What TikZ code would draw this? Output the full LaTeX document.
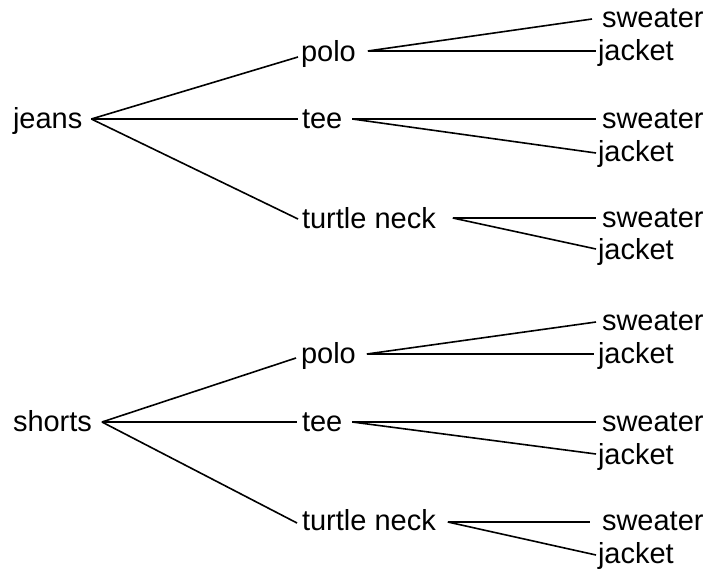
\documentclass[tikz,border=0pt]{standalone}
\usepackage{fontspec}
\setmainfont{Liberation Sans}
\begin{document}
\begin{tikzpicture}[x=1pt,y=-1pt,
  lbl/.style={anchor=base west,inner sep=0pt,outer sep=0pt,font=\fontsize{29}{30}\selectfont},
  edge/.style={line width=1.6pt}]
\useasboundingbox (0,0) rectangle (708,573);
% top tree (baseline = line y + 9)
\node[lbl] (jeans) at (13,128) {jeans};
\node[lbl] (polo1) at (301,61) {polo};
\node[lbl] (tee1) at (302,128) {tee};
\node[lbl] (turt1) at (302,228) {turtle neck};
\node[lbl] (sw11) at (602,27) {sweater};
\node[lbl] (ja11) at (598,60) {jacket};
\node[lbl] (sw12) at (602,128) {sweater};
\node[lbl] (ja12) at (598,161) {jacket};
\node[lbl] (sw13) at (602,227) {sweater};
\node[lbl] (ja13) at (598,259) {jacket};
% bottom tree
\node[lbl] (shorts) at (13,431) {shorts};
\node[lbl] (polo2) at (301,363) {polo};
\node[lbl] (tee2) at (302,431) {tee};
\node[lbl] (turt2) at (302,530) {turtle neck};
\node[lbl] (sw21) at (602,330) {sweater};
\node[lbl] (ja21) at (598,363) {jacket};
\node[lbl] (sw22) at (602,431) {sweater};
\node[lbl] (ja22) at (598,464) {jacket};
\node[lbl] (sw23) at (602,530) {sweater};
\node[lbl] (ja23) at (598,563) {jacket};
% top edges
\draw[edge] ([xshift=9pt,yshift=9pt]jeans.base east) -- ([xshift=-3pt,yshift=4pt]polo1.base west);
\draw[edge] ([xshift=9pt,yshift=9pt]jeans.base east) -- ([xshift=-4pt,yshift=9pt]tee1.base west);
\draw[edge] ([xshift=9pt,yshift=9pt]jeans.base east) -- ([xshift=-4pt,yshift=9pt]turt1.base west);
\draw[edge] ([xshift=12pt,yshift=10pt]polo1.base east) -- ([xshift=-10pt,yshift=8pt]sw11.base west);
\draw[edge] ([xshift=12pt,yshift=10pt]polo1.base east) -- ([xshift=-2pt,yshift=9pt]ja11.base west);
\draw[edge] ([xshift=10pt,yshift=9pt]tee1.base east) -- ([xshift=-6pt,yshift=9pt]sw12.base west);
\draw[edge] ([xshift=10pt,yshift=9pt]tee1.base east) -- ([xshift=-2pt,yshift=8pt]ja12.base west);
\draw[edge] ([xshift=17pt,yshift=10pt]turt1.base east) -- ([xshift=-6pt,yshift=9pt]sw13.base west);
\draw[edge] ([xshift=17pt,yshift=10pt]turt1.base east) -- ([xshift=-2pt,yshift=10pt]ja13.base west);
% bottom edges
\draw[edge] ([xshift=10pt,yshift=9pt]shorts.base east) -- ([xshift=-5pt,yshift=5pt]polo2.base west);
\draw[edge] ([xshift=10pt,yshift=9pt]shorts.base east) -- ([xshift=-5pt,yshift=9pt]tee2.base west);
\draw[edge] ([xshift=10pt,yshift=9pt]shorts.base east) -- ([xshift=-5pt,yshift=7pt]turt2.base west);
\draw[edge] ([xshift=11pt,yshift=9pt]polo2.base east) -- ([xshift=-6pt,yshift=8pt]sw21.base west);
\draw[edge] ([xshift=11pt,yshift=9pt]polo2.base east) -- ([xshift=-4pt,yshift=9pt]ja21.base west);
\draw[edge] ([xshift=10pt,yshift=9pt]tee2.base east) -- ([xshift=-6pt,yshift=9pt]sw22.base west);
\draw[edge] ([xshift=10pt,yshift=9pt]tee2.base east) -- ([xshift=-2pt,yshift=10pt]ja22.base west);
\draw[edge] ([xshift=12pt,yshift=8pt]turt2.base east) -- ([xshift=-12pt,yshift=8pt]sw23.base west);
\draw[edge] ([xshift=12pt,yshift=8pt]turt2.base east) -- ([xshift=-2pt,yshift=8pt]ja23.base west);
\end{tikzpicture}
\end{document}
